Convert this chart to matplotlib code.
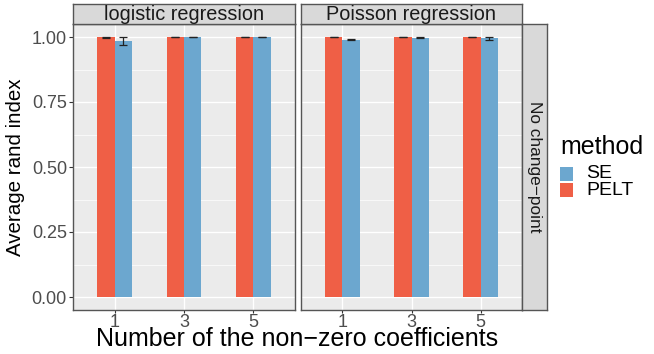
import matplotlib
matplotlib.use("Agg")
import matplotlib.pyplot as plt
import numpy as np

plt.rcParams['font.family'] = ['Liberation Sans', 'DejaVu Sans']

categories = ["1", "3", "5"]
panels = ["logistic regression", "Poisson regression"]
methods = ["PELT", "SE"]
pelt_values = {"logistic regression": [0.999, 1.0, 1.0],
               "Poisson regression": [1.0, 1.0, 1.0]}
se_values = {"logistic regression": [0.984, 0.999, 0.999],
             "Poisson regression": [0.990, 0.998, 0.995]}
pelt_sd = {"logistic regression": [0.001, 0.0005, 0.0005],
           "Poisson regression": [0.0005, 0.0005, 0.0005]}
se_sd = {"logistic regression": [0.015, 0.0005, 0.0005],
         "Poisson regression": [0.001, 0.001, 0.006]}
row_label = "No change\u2212point"
y_ticks = [0.0, 0.25, 0.5, 0.75, 1.0]
y_ticklabels = ["0.00", "0.25", "0.50", "0.75", "1.00"]

PELT_COLOR = "#EF5F46"
SE_COLOR = "#6CA7CF"
PANEL_BG = "#EBEBEB"
STRIP_BG = "#D9D9D9"
BORDER = "#555555"

W, H = 654, 354
fig = plt.figure(figsize=(W / 100, H / 100), dpi=100)

def fx(px):
    return px / W

def fy(py):
    return 1 - py / H

panel_x = [(73, 295), (301, 522)]
panel_top, panel_bottom = 24, 310
strip_top = 4

x = np.arange(len(categories)) + 1
bw = 0.25

for i, name in enumerate(panels):
    x0, x1 = panel_x[i]
    ax = fig.add_axes([fx(x0), fy(panel_bottom), fx(x1 - x0), (panel_bottom - panel_top) / H])
    ax.set_facecolor(PANEL_BG)
    ax.set_xlim(0.4, 3.6)
    ax.set_ylim(-0.05, 1.05)
    ax.set_yticks(y_ticks)
    ax.set_yticks([0.125, 0.375, 0.625, 0.875], minor=True)
    ax.set_xticks(x)
    ax.grid(True, which="major", color="white", linewidth=1.0)
    ax.grid(True, which="minor", axis="y", color="white", linewidth=0.5)
    ax.set_axisbelow(True)
    ax.bar(x - bw / 2, pelt_values[name], width=bw, color=PELT_COLOR, zorder=2)
    ax.bar(x + bw / 2, se_values[name], width=bw, color=SE_COLOR, zorder=2)
    ax.errorbar(x - bw / 2, pelt_values[name], yerr=pelt_sd[name], fmt="none",
                ecolor="#222222", elinewidth=0.9, capsize=2.6, capthick=0.9, zorder=3)
    ax.errorbar(x + bw / 2, se_values[name], yerr=se_sd[name], fmt="none",
                ecolor="#222222", elinewidth=0.9, capsize=3.0, capthick=0.9, zorder=3)
    ax.set_xticklabels(categories, fontsize=13, color="#4D4D4D")
    ax.tick_params(axis="x", which="major", color="#333333", length=2.2, width=0.8, pad=1.0)
    if i == 0:
        ax.set_yticklabels(y_ticklabels, fontsize=13, color="#4D4D4D")
        ax.tick_params(axis="y", which="major", color="#333333", length=3.2, width=0.8, pad=1.2)
    else:
        ax.set_yticklabels([])
        ax.tick_params(axis="y", which="major", length=0)
    ax.tick_params(axis="y", which="minor", length=0)
    for s in ax.spines.values():
        s.set_color(BORDER)
        s.set_linewidth(1.0)
    # top strip
    sax = fig.add_axes([fx(x0), fy(panel_top), fx(x1 - x0), (panel_top - strip_top) / H])
    sax.set_facecolor(STRIP_BG)
    sax.set_xticks([])
    sax.set_yticks([])
    for s in sax.spines.values():
        s.set_color(BORDER)
        s.set_linewidth(1.0)
    sax.text(0.5, 0.45, name, ha="center", va="center", fontsize=14.3, color="#1A1A1A",
             transform=sax.transAxes)

# right strip
rax = fig.add_axes([fx(522), fy(panel_bottom), fx(547 - 522), (panel_bottom - panel_top) / H])
rax.set_facecolor(STRIP_BG)
rax.set_xticks([])
rax.set_yticks([])
for s in rax.spines.values():
    s.set_color(BORDER)
    s.set_linewidth(1.0)
rax.text(0.5, 0.5, row_label, rotation=-90, ha="center", va="center", fontsize=12.4,
         color="#1A1A1A", transform=rax.transAxes)

# axis titles
fig.text(fx(297), fy(346), "Number of the non\u2212zero coefficients", ha="center", va="baseline",
         fontsize=18, color="black")
fig.text(fx(16), fy(167), "Average rand index", ha="center", va="center", rotation=90,
         fontsize=14.8, color="black")

# legend
fig.text(fx(560), fy(147), "method", ha="left", va="center", fontsize=18, color="black")
for label, color, ytop in [("SE", SE_COLOR, 167), ("PELT", PELT_COLOR, 183)]:
    lax = fig.add_axes([fx(560), fy(ytop + 14), fx(13), 14 / H])
    lax.set_facecolor(color)
    lax.set_xticks([])
    lax.set_yticks([])
    for s in lax.spines.values():
        s.set_visible(False)
    fig.text(fx(586), fy(ytop + 7), label, ha="left", va="center", fontsize=14, color="black")

fig.savefig("out.png", dpi=100)
